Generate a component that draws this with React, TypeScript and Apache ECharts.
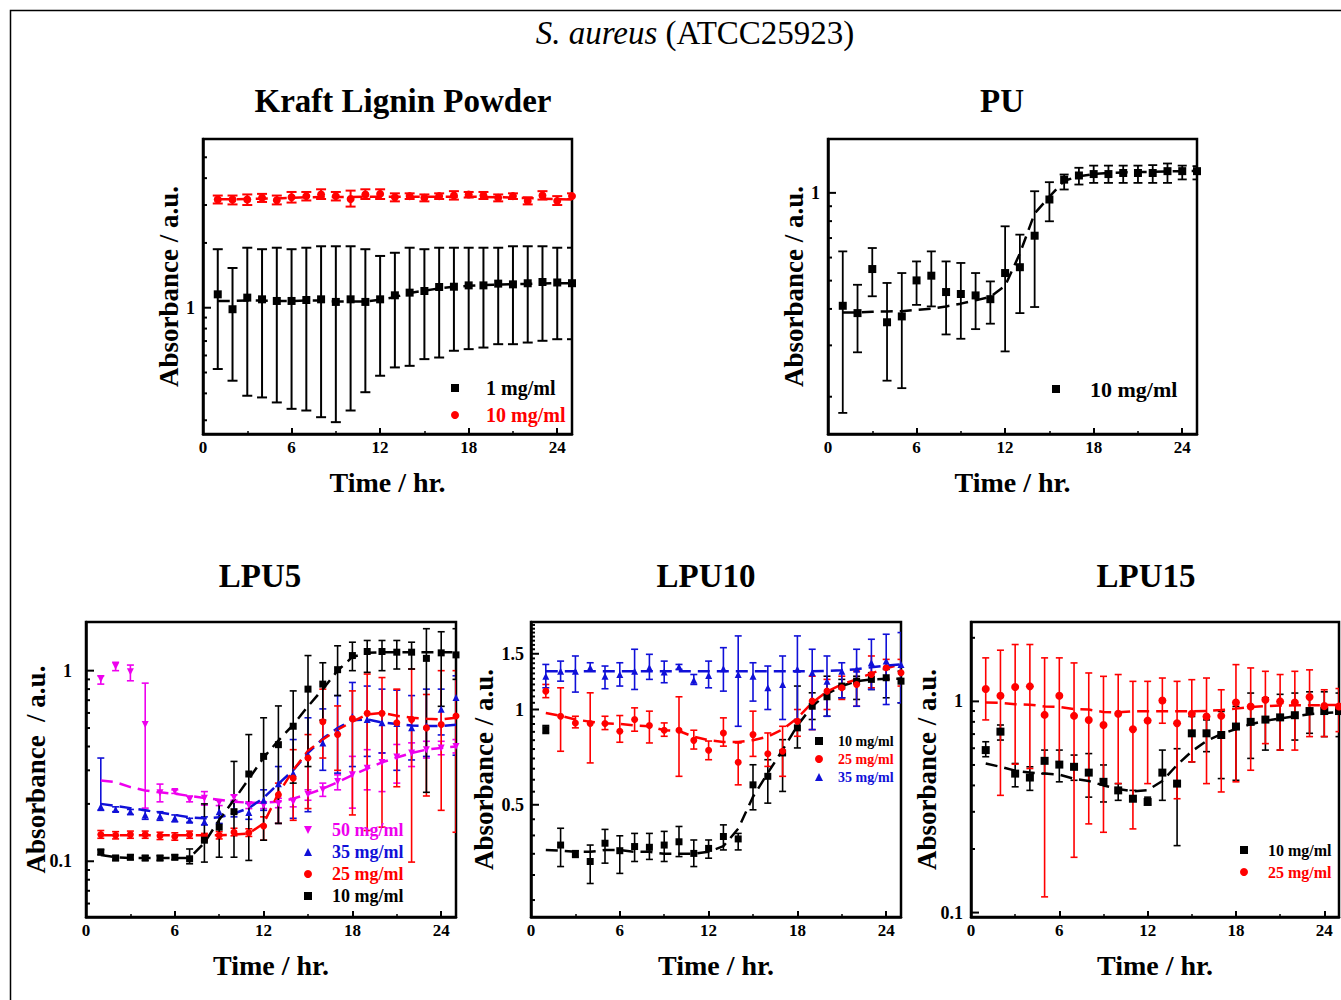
import React, { useEffect, useRef } from 'react';
import * as echarts from 'echarts';

// ---------------- data ----------------
const HOURS = [1, 2, 3, 4, 5, 6, 7, 8, 9, 10, 11, 12, 13, 14, 15, 16, 17, 18, 19, 20, 21, 22, 23, 24, 25];

// Kraft Lignin Powder
const KLP1_VAL = [1.154, 0.984, 1.114, 1.094, 1.075, 1.075, 1.086, 1.094, 1.064, 1.094, 1.064, 1.094, 1.142, 1.175, 1.196, 1.248, 1.252, 1.27, 1.27, 1.294, 1.284, 1.299, 1.317, 1.31, 1.3];
const KLP1_HI = [1.87, 1.53, 1.9, 1.87, 1.9, 1.87, 1.9, 1.93, 1.93, 1.93, 1.87, 1.74, 1.8, 1.9, 1.87, 1.9, 1.9, 1.9, 1.9, 1.9, 1.93, 1.93, 1.93, 1.9, 1.9];
const KLP1_LO = [0.519, 0.458, 0.39, 0.383, 0.363, 0.339, 0.333, 0.31, 0.294, 0.333, 0.405, 0.483, 0.528, 0.537, 0.577, 0.587, 0.631, 0.642, 0.653, 0.677, 0.677, 0.689, 0.702, 0.714, 0.714];
const KLP1_FIT = [1.075, 1.075, 1.08, 1.08, 1.075, 1.075, 1.08, 1.08, 1.07, 1.07, 1.07, 1.09, 1.12, 1.17, 1.2, 1.23, 1.25, 1.265, 1.275, 1.28, 1.285, 1.29, 1.295, 1.3, 1.3];

const KLP10_VAL = [3.18, 3.18, 3.18, 3.24, 3.16, 3.26, 3.3, 3.36, 3.3, 3.2, 3.36, 3.38, 3.26, 3.3, 3.24, 3.3, 3.32, 3.36, 3.32, 3.24, 3.3, 3.13, 3.32, 3.13, 3.3];
const KLP10_HI = [3.32, 3.32, 3.36, 3.38, 3.32, 3.45, 3.45, 3.55, 3.45, 3.5, 3.55, 3.55, 3.4, 3.4, 3.36, 3.4, 3.48, 3.45, 3.45, 3.36, 3.4, 3.26, 3.48, 3.3, 3.4];
const KLP10_LO = [3.05, 3.02, 3.0, 3.1, 3.02, 3.08, 3.15, 3.2, 3.15, 2.95, 3.2, 3.2, 3.12, 3.2, 3.12, 3.2, 3.18, 3.25, 3.2, 3.12, 3.2, 3.02, 3.18, 3.0, 3.2];
const KLP10_FIT = [3.19, 3.19, 3.2, 3.21, 3.22, 3.24, 3.26, 3.27, 3.27, 3.27, 3.28, 3.28, 3.28, 3.28, 3.28, 3.28, 3.28, 3.28, 3.27, 3.26, 3.25, 3.23, 3.21, 3.19, 3.18];

// PU
const PU10_VAL = [0.41, 0.387, 0.548, 0.36, 0.377, 0.501, 0.52, 0.457, 0.45, 0.445, 0.432, 0.531, 0.556, 0.713, 0.949, 1.11, 1.147, 1.16, 1.16, 1.17, 1.17, 1.17, 1.187, 1.187, 1.187];
const PU10_HI = [0.63, 0.484, 0.647, 0.491, 0.531, 0.582, 0.63, 0.582, 0.575, 0.531, 0.497, 0.768, 0.719, 1.013, 1.088, 1.156, 1.219, 1.24, 1.24, 1.24, 1.24, 1.245, 1.261, 1.24, 1.235];
const PU10_LO = [0.176, 0.284, 0.442, 0.227, 0.214, 0.413, 0.408, 0.327, 0.316, 0.341, 0.356, 0.286, 0.387, 0.406, 0.799, 1.027, 1.068, 1.082, 1.082, 1.082, 1.082, 1.082, 1.082, 1.112, 1.112];
const PU10_FIT = [0.389, 0.389, 0.391, 0.392, 0.393, 0.397, 0.401, 0.408, 0.417, 0.428, 0.44, 0.48, 0.62, 0.85, 0.97, 1.1, 1.14, 1.16, 1.17, 1.175, 1.18, 1.18, 1.185, 1.187, 1.19];

// LPU5
const L5_50_VAL = [0.903, 1.054, 0.987, 0.522, 0.229, 0.232, 0.211, 0.214, 0.203, 0.216, 0.197, 0.197, 0.201, 0.205, 0.224, 0.237, 0.262, 0.284, 0.308, 0.33, 0.352, 0.37, 0.385, 0.393, 0.4];
const L5_50_HI = [0.94, 1.106, 1.07, 0.86, 0.254, 0.237, 0.22, 0.232, 0.209, 0.223, 0.205, 0.205, 0.214, 0.214, 0.237, 0.257, 0.284, 0.355, 0.385, 0.37, 0.41, 0.418, 0.426, 0.426, 0.435];
const L5_50_LO = [0.85, 1.0, 0.885, 0.19, 0.205, 0.227, 0.205, 0.197, 0.196, 0.209, 0.189, 0.189, 0.191, 0.193, 0.209, 0.219, 0.237, 0.19, 0.237, 0.232, 0.257, 0.314, 0.348, 0.362, 0.37];
const L5_50_FIT = [0.265, 0.26, 0.245, 0.235, 0.23, 0.226, 0.22, 0.215, 0.21, 0.205, 0.203, 0.203, 0.205, 0.213, 0.225, 0.24, 0.26, 0.283, 0.306, 0.33, 0.35, 0.37, 0.385, 0.393, 0.4];

const L5_35_VAL = [0.193, 0.187, 0.182, 0.175, 0.172, 0.168, 0.164, 0.161, 0.182, 0.185, 0.18, 0.209, 0.255, 0.29, 0.362, 0.417, 0.481, 0.573, 0.555, 0.533, 0.528, 0.501, 0.512, 0.627, 0.722];
const L5_35_HI = [0.348, 0.193, 0.187, 0.185, 0.182, 0.175, 0.168, 0.171, 0.209, 0.205, 0.201, 0.237, 0.314, 0.435, 0.566, 0.63, 0.74, 0.867, 0.83, 0.8, 0.79, 0.74, 0.8, 0.8, 0.94];
const L5_35_LO = [0.185, 0.182, 0.176, 0.166, 0.164, 0.161, 0.16, 0.155, 0.158, 0.171, 0.166, 0.185, 0.158, 0.168, 0.182, 0.3, 0.29, 0.314, 0.355, 0.37, 0.3, 0.34, 0.355, 0.46, 0.36];
const L5_35_FIT = [0.2, 0.195, 0.19, 0.185, 0.18, 0.175, 0.17, 0.168, 0.17, 0.178, 0.19, 0.215, 0.255, 0.3, 0.37, 0.44, 0.5, 0.55, 0.555, 0.535, 0.525, 0.515, 0.512, 0.512, 0.52];

const L5_25_VAL = [0.138, 0.137, 0.138, 0.138, 0.136, 0.135, 0.138, 0.134, 0.137, 0.142, 0.141, 0.153, 0.223, 0.273, 0.348, 0.539, 0.462, 0.56, 0.597, 0.597, 0.533, 0.555, 0.501, 0.522, 0.578];
const L5_25_HI = [0.145, 0.143, 0.144, 0.144, 0.142, 0.141, 0.144, 0.14, 0.143, 0.149, 0.148, 0.171, 0.257, 0.385, 0.462, 0.8, 0.653, 0.783, 0.96, 0.92, 0.8, 1.02, 0.75, 1.0, 1.0];
const L5_25_LO = [0.132, 0.131, 0.132, 0.132, 0.13, 0.129, 0.132, 0.128, 0.131, 0.136, 0.135, 0.129, 0.158, 0.164, 0.189, 0.348, 0.3, 0.175, 0.145, 0.151, 0.246, 0.099, 0.22, 0.185, 0.142];
const L5_25_FIT = [0.137, 0.137, 0.137, 0.137, 0.137, 0.137, 0.137, 0.137, 0.137, 0.138, 0.14, 0.158, 0.227, 0.3, 0.38, 0.435, 0.49, 0.54, 0.59, 0.6, 0.58, 0.566, 0.56, 0.555, 0.566];

const L5_10_VAL = [0.112, 0.104, 0.105, 0.104, 0.104, 0.105, 0.103, 0.129, 0.151, 0.182, 0.287, 0.355, 0.409, 0.511, 0.8, 0.85, 1.012, 1.2, 1.26, 1.26, 1.25, 1.25, 1.16, 1.24, 1.21];
const L5_10_HI = [0.115, 0.107, 0.108, 0.107, 0.107, 0.108, 0.116, 0.2, 0.209, 0.334, 0.462, 0.566, 0.653, 0.783, 1.2, 1.1, 1.35, 1.41, 1.44, 1.44, 1.44, 1.41, 1.66, 1.6, 1.66];
const L5_10_LO = [0.108, 0.101, 0.102, 0.101, 0.101, 0.102, 0.097, 0.099, 0.105, 0.105, 0.101, 0.129, 0.158, 0.257, 0.314, 0.55, 0.74, 1.0, 0.98, 1.0, 1.02, 1.02, 0.23, 0.65, 0.9];
const L5_10_FIT = [0.108, 0.105, 0.104, 0.104, 0.104, 0.104, 0.104, 0.125, 0.165, 0.21, 0.27, 0.35, 0.43, 0.52, 0.65, 0.8, 1.0, 1.18, 1.24, 1.25, 1.25, 1.25, 1.25, 1.25, 1.25];

// LPU10
const L10_10_VAL = [0.864, 0.373, 0.35, 0.331, 0.378, 0.358, 0.369, 0.367, 0.373, 0.382, 0.351, 0.364, 0.397, 0.39, 0.578, 0.615, 0.729, 0.875, 1.024, 1.097, 1.186, 1.229, 1.245, 1.26, 1.229];
const L10_10_HI = [0.89, 0.4215, 0.358, 0.373, 0.418, 0.399, 0.406, 0.406, 0.412, 0.427, 0.387, 0.387, 0.432, 0.406, 0.669, 0.694, 0.803, 1.186, 1.129, 1.274, 1.245, 1.274, 1.307, 1.339, 1.322];
const L10_10_LO = [0.84, 0.319, 0.341, 0.282, 0.327, 0.3035, 0.331, 0.336, 0.331, 0.343, 0.319, 0.339, 0.36, 0.36, 0.482, 0.506, 0.551, 0.756, 0.93, 0.952, 1.089, 1.076, 1.157, 1.089, 1.05];
const L10_10_FIT = [0.36, 0.358, 0.355, 0.355, 0.36, 0.36, 0.355, 0.355, 0.35, 0.35, 0.35, 0.355, 0.37, 0.42, 0.53, 0.63, 0.745, 0.89, 1.024, 1.12, 1.186, 1.229, 1.245, 1.25, 1.25];

const L10_25_VAL = [1.143, 0.952, 0.907, 0.903, 0.903, 0.854, 0.93, 0.89, 0.86, 0.86, 0.799, 0.743, 0.843, 0.681, 0.833, 0.725, 0.738, 0.918, 1.063, 1.143, 1.171, 1.2, 1.29, 1.355, 1.307];
const L10_25_HI = [1.2, 1.171, 0.952, 1.129, 0.952, 0.957, 1.012, 0.988, 0.907, 1.097, 0.86, 0.795, 0.941, 0.784, 0.988, 0.843, 0.885, 1.0, 1.274, 1.245, 1.274, 1.322, 1.476, 1.44, 1.44];
const L10_25_LO = [1.09, 0.738, 0.875, 0.678, 0.864, 0.788, 0.854, 0.784, 0.823, 0.615, 0.75, 0.694, 0.766, 0.578, 0.711, 0.661, 0.615, 0.823, 0.864, 1.0, 1.076, 1.024, 1.171, 1.245, 1.186];
const L10_25_FIT = [0.975, 0.955, 0.93, 0.915, 0.905, 0.9, 0.89, 0.885, 0.86, 0.855, 0.82, 0.8, 0.79, 0.79, 0.8, 0.82, 0.865, 0.94, 1.05, 1.14, 1.2, 1.245, 1.3, 1.35, 1.39];

const L10_35_VAL = [1.274, 1.322, 1.322, 1.355, 1.274, 1.29, 1.322, 1.355, 1.313, 1.365, 1.238, 1.281, 1.345, 1.29, 1.274, 1.171, 1.2, 1.339, 1.307, 1.229, 1.322, 1.339, 1.405, 1.422, 1.388];
const L10_35_HI = [1.388, 1.422, 1.476, 1.405, 1.372, 1.405, 1.55, 1.494, 1.422, 1.388, 1.29, 1.422, 1.568, 1.708, 1.405, 1.372, 1.476, 1.708, 1.55, 1.476, 1.405, 1.55, 1.667, 1.729, 1.75];
const L10_35_LO = [1.171, 1.229, 1.135, 1.322, 1.163, 1.186, 1.157, 1.245, 1.215, 1.339, 1.2, 1.171, 1.143, 0.885, 1.063, 1.0, 0.93, 0.93, 0.864, 0.952, 1.089, 1.024, 1.157, 1.037, 1.05];
const L10_35_FIT = [1.32, 1.32, 1.32, 1.32, 1.32, 1.32, 1.32, 1.32, 1.32, 1.32, 1.32, 1.32, 1.32, 1.32, 1.32, 1.32, 1.32, 1.32, 1.32, 1.325, 1.33, 1.34, 1.36, 1.375, 1.39];

// LPU15
const L15_10_VAL = [0.588, 0.719, 0.455, 0.436, 0.523, 0.502, 0.49, 0.46, 0.416, 0.379, 0.346, 0.334, 0.46, 0.408, 0.706, 0.706, 0.693, 0.76, 0.8, 0.82, 0.84, 0.86, 0.9, 0.9, 0.9];
const L15_10_HI = [0.644, 0.773, 0.508, 0.49, 0.588, 0.588, 0.557, 0.566, 0.5, 0.408, 0.379, 0.352, 0.588, 0.597, 0.848, 0.817, 0.896, 0.946, 1.095, 1.04, 1.08, 1.095, 1.11, 1.11, 1.095];
const L15_10_LO = [0.547, 0.656, 0.394, 0.379, 0.455, 0.416, 0.423, 0.352, 0.334, 0.34, 0.34, 0.325, 0.34, 0.2075, 0.517, 0.578, 0.431, 0.423, 0.537, 0.588, 0.588, 0.656, 0.706, 0.681, 0.681];
const L15_10_FIT = [0.508, 0.49, 0.47, 0.46, 0.455, 0.45, 0.43, 0.42, 0.4, 0.385, 0.375, 0.38, 0.42, 0.5, 0.58, 0.65, 0.7, 0.74, 0.78, 0.81, 0.83, 0.85, 0.87, 0.88, 0.89];

const L15_25_VAL = [1.144, 1.063, 1.169, 1.178, 0.863, 1.063, 0.854, 0.817, 0.773, 0.873, 0.738, 0.811, 1.01, 0.788, 0.873, 0.848, 0.854, 0.988, 0.946, 1.017, 1.0, 0.988, 1.048, 0.95, 0.946];
const L15_25_HI = [1.607, 1.747, 1.859, 1.859, 1.607, 1.607, 1.521, 1.363, 1.314, 1.34, 1.244, 1.244, 1.29, 1.244, 1.267, 1.29, 1.135, 1.493, 1.44, 1.388, 1.34, 1.388, 1.41, 1.135, 1.15];
const L15_25_LO = [0.817, 0.359, 0.504, 0.481, 0.1187, 0.517, 0.1827, 0.263, 0.24, 0.408, 0.249, 0.408, 0.788, 0.346, 0.517, 0.408, 0.3725, 0.416, 0.472, 0.631, 0.588, 0.588, 0.681, 0.681, 0.719];
const L15_25_FIT = [0.988, 0.985, 0.97, 0.965, 0.946, 0.94, 0.92, 0.915, 0.89, 0.888, 0.897, 0.897, 0.897, 0.897, 0.897, 0.9, 0.91, 0.924, 0.94, 0.95, 0.955, 0.958, 0.958, 0.96, 0.96];

// y-axis ticks
const KLP_Y_MAJOR = [1];
const KLP_Y_LABELS = ['1'];
const KLP_Y_MINOR = [0.3, 0.4, 0.5, 0.6, 0.7, 0.8, 0.9, 2, 3, 4, 5];
const PU_Y_MAJOR = [1];
const PU_Y_LABELS = ['1'];
const PU_Y_MINOR = [0.2, 0.3, 0.4, 0.5, 0.6, 0.7, 0.8, 0.9];
const L5_Y_MAJOR = [0.1, 1];
const L5_Y_LABELS = ['0.1', '1'];
const L5_Y_MINOR = [0.06, 0.07, 0.08, 0.09, 0.2, 0.3, 0.4, 0.5, 0.6, 0.7, 0.8, 0.9];
const L10_Y_MAJOR = [0.5, 1, 1.5];
const L10_Y_LABELS = ['0.5', '1', '1.5'];
const L10_Y_MINOR = [0.25, 0.3, 0.35, 0.4, 0.45, 0.55, 0.6, 0.65, 0.7, 0.75, 0.8, 0.85, 0.9, 0.95, 1.05, 1.1, 1.15, 1.2, 1.25, 1.3, 1.35, 1.4, 1.45, 1.55, 1.6, 1.65, 1.7, 1.75, 1.8, 1.85];
const L15_Y_MAJOR = [0.1, 1];
const L15_Y_LABELS = ['0.1', '1'];
const L15_Y_MINOR = [0.2, 0.3, 0.4, 0.5, 0.6, 0.7, 0.8, 0.9, 2];

// ---------------- styling ----------------
const FONT = "'Liberation Serif', 'Times New Roman', 'DejaVu Serif', serif";
const BLACK = '#000000';
const RED = '#ff0000';
const BLUE = '#1010d8';
const MAGENTA = '#ee00ee';
const SQUARE = 'path://M0,0H10V10H0Z';
const CIRCLE = 'circle';
const TRI_UP = 'path://M5,0L10,10H0Z';
const TRI_DOWN = 'path://M0,0H10L5,10Z';

interface Curve { key: string; color: string; symbol: string; val: number[]; lo: number[]; hi: number[]; fit: number[] }
interface Panel {
  title: string; tx: number; ty: number;
  grid: { left: number; top: number; width: number; height: number };
  ymin: number; ymax: number;
  major: number[]; labels: string[]; minor: number[]; labelGap: number;
  yName: string; yNameGap: number;
  curves: Curve[];
  legend: { left: number; top: number; itemWidth: number; itemGap: number; fontSize: number };
  symbolSize: number; cap: number; barWidth: number;
}

const PANELS: Panel[] = [
  {
    title: 'Kraft Lignin Powder', tx: 403, ty: 101,
    grid: { left: 203, top: 139, width: 369, height: 295 },
    ymin: 0.259, ymax: 6.08, major: KLP_Y_MAJOR, labels: KLP_Y_LABELS, minor: KLP_Y_MINOR, labelGap: 8,
    yName: 'Absorbance / a.u.', yNameGap: 21,
    curves: [
      { key: 'p1|1 mg/ml', color: BLACK, symbol: SQUARE, val: KLP1_VAL, lo: KLP1_LO, hi: KLP1_HI, fit: KLP1_FIT },
      { key: 'p1|10 mg/ml', color: RED, symbol: CIRCLE, val: KLP10_VAL, lo: KLP10_LO, hi: KLP10_HI, fit: KLP10_FIT },
    ],
    legend: { left: 451, top: 378, itemWidth: 52, itemGap: 7, fontSize: 20 },
    symbolSize: 8, cap: 5, barWidth: 2,
  },
  {
    title: 'PU', tx: 1002, ty: 101,
    grid: { left: 828, top: 139, width: 369, height: 295 },
    ymin: 0.149, ymax: 1.53, major: PU_Y_MAJOR, labels: PU_Y_LABELS, minor: PU_Y_MINOR, labelGap: 8,
    yName: 'Absorbance / a.u.', yNameGap: 21,
    curves: [
      { key: 'p2|10 mg/ml', color: BLACK, symbol: SQUARE, val: PU10_VAL, lo: PU10_LO, hi: PU10_HI, fit: PU10_FIT },
    ],
    legend: { left: 1052, top: 378, itemWidth: 58, itemGap: 7, fontSize: 22 },
    symbolSize: 8, cap: 4.5, barWidth: 1.8,
  },
  {
    title: 'LPU5', tx: 260, ty: 576,
    grid: { left: 86, top: 622, width: 370, height: 295 },
    ymin: 0.051, ymax: 1.8, major: L5_Y_MAJOR, labels: L5_Y_LABELS, minor: L5_Y_MINOR, labelGap: 14,
    yName: 'Absorbance  / a.u.', yNameGap: 37,
    curves: [
      { key: 'p3|50 mg/ml', color: MAGENTA, symbol: TRI_DOWN, val: L5_50_VAL, lo: L5_50_LO, hi: L5_50_HI, fit: L5_50_FIT },
      { key: 'p3|35 mg/ml', color: BLUE, symbol: TRI_UP, val: L5_35_VAL, lo: L5_35_LO, hi: L5_35_HI, fit: L5_35_FIT },
      { key: 'p3|25 mg/ml', color: RED, symbol: CIRCLE, val: L5_25_VAL, lo: L5_25_LO, hi: L5_25_HI, fit: L5_25_FIT },
      { key: 'p3|10 mg/ml', color: BLACK, symbol: SQUARE, val: L5_10_VAL, lo: L5_10_LO, hi: L5_10_HI, fit: L5_10_FIT },
    ],
    legend: { left: 304, top: 821, itemWidth: 38, itemGap: 4, fontSize: 18 },
    symbolSize: 7, cap: 3.5, barWidth: 1.6,
  },
  {
    title: 'LPU10', tx: 706, ty: 576,
    grid: { left: 531, top: 622, width: 370, height: 295 },
    ymin: 0.221, ymax: 1.89, major: L10_Y_MAJOR, labels: L10_Y_LABELS, minor: L10_Y_MINOR, labelGap: 7,
    yName: 'Absorbance / a.u.', yNameGap: 34,
    curves: [
      { key: 'p4|10 mg/ml', color: BLACK, symbol: SQUARE, val: L10_10_VAL, lo: L10_10_LO, hi: L10_10_HI, fit: L10_10_FIT },
      { key: 'p4|25 mg/ml', color: RED, symbol: CIRCLE, val: L10_25_VAL, lo: L10_25_LO, hi: L10_25_HI, fit: L10_25_FIT },
      { key: 'p4|35 mg/ml', color: BLUE, symbol: TRI_UP, val: L10_35_VAL, lo: L10_35_LO, hi: L10_35_HI, fit: L10_35_FIT },
    ],
    legend: { left: 815, top: 734, itemWidth: 28, itemGap: 4, fontSize: 14 },
    symbolSize: 7, cap: 3.5, barWidth: 1.6,
  },
  {
    title: 'LPU15', tx: 1146, ty: 576,
    grid: { left: 971, top: 622, width: 368, height: 295 },
    ymin: 0.0953, ymax: 2.376, major: L15_Y_MAJOR, labels: L15_Y_LABELS, minor: L15_Y_MINOR, labelGap: 8,
    yName: 'Absorbance / a.u.', yNameGap: 31,
    curves: [
      { key: 'p5|10 mg/ml', color: BLACK, symbol: SQUARE, val: L15_10_VAL, lo: L15_10_LO, hi: L15_10_HI, fit: L15_10_FIT },
      { key: 'p5|25 mg/ml', color: RED, symbol: CIRCLE, val: L15_25_VAL, lo: L15_25_LO, hi: L15_25_HI, fit: L15_25_FIT },
    ],
    legend: { left: 1240, top: 842, itemWidth: 38, itemGap: 6, fontSize: 16 },
    symbolSize: 8, cap: 3.5, barWidth: 1.6,
  },
];

function buildOption() {
  const grids: any[] = [];
  const xAxes: any[] = [];
  const yAxes: any[] = [];
  const series: any[] = [];
  const legends: any[] = [];
  const graphics: any[] = [
    {
      type: 'rect', silent: true, z: 100,
      shape: { x: 10.5, y: 10.5, width: 1340, height: 1000 },
      style: { fill: 'none', stroke: '#000', lineWidth: 1.5 },
    },
    {
      type: 'text', x: 695, y: 33, z: 100,
      style: {
        text: '{i|S. aureus} (ATCC25923)',
        fontFamily: FONT, fontSize: 33, fill: '#000', align: 'center', verticalAlign: 'middle',
        rich: { i: { fontFamily: FONT, fontSize: 33, fontStyle: 'italic', fill: '#000' } },
      },
    },
  ];

  PANELS.forEach((p, gi) => {
    grids.push({ ...p.grid, show: true, borderColor: '#000', borderWidth: 2.5, backgroundColor: 'transparent' });
    xAxes.push({
      type: 'value', gridIndex: gi, min: 0, max: 25, interval: 6,
      axisLine: { show: true, lineStyle: { color: '#000', width: 2.5 } },
      axisTick: { show: true, inside: true, length: 6, lineStyle: { color: '#000', width: 2 } },
      minorTick: { show: true, splitNumber: 2, length: 3, lineStyle: { color: '#000', width: 1.5 } },
      splitLine: { show: false },
      axisLabel: {
        color: '#000', fontFamily: FONT, fontWeight: 'bold', fontSize: 17, margin: 5, showMaxLabel: false,
        formatter: (v: number) => (v % 6 === 0 ? String(v) : ''),
      },
      name: 'Time / hr.', nameLocation: 'middle', nameGap: 34,
      nameTextStyle: { color: '#000', fontFamily: FONT, fontWeight: 'bold', fontSize: 28 },
    });
    yAxes.push({
      type: 'log', logBase: 10, gridIndex: gi, min: p.ymin, max: p.ymax,
      axisLine: { show: true, lineStyle: { color: '#000', width: 2.5 } },
      axisTick: { show: false }, axisLabel: { show: false }, splitLine: { show: false },
      minorTick: { show: false }, minorSplitLine: { show: false },
      name: p.yName, nameLocation: 'middle', nameRotate: 90, nameGap: p.yNameGap,
      nameTextStyle: { color: '#000', fontFamily: FONT, fontWeight: 'bold', fontSize: 27 },
    });

    // y ticks + labels drawn through the axis scale
    const tickVals = [...p.major, ...p.minor];
    const nMajor = p.major.length;
    series.push({
      type: 'custom', xAxisIndex: gi, yAxisIndex: gi, clip: false, silent: true, z: 6,
      data: tickVals.map((t) => [0, t]),
      encode: { x: 0, y: 1 },
      renderItem: (params: any, api: any) => {
        const pt = api.coord([0, api.value(1)]);
        const major = params.dataIndex < nMajor;
        const len = major ? 8 : 4;
        const children: any[] = [
          { type: 'line', shape: { x1: pt[0], y1: pt[1], x2: pt[0] + len, y2: pt[1] }, style: { stroke: '#000', lineWidth: 2 } },
        ];
        if (major) {
          children.push({
            type: 'text',
            style: {
              text: p.labels[params.dataIndex], x: pt[0] - p.labelGap, y: pt[1],
              align: 'right', verticalAlign: 'middle',
              fontFamily: FONT, fontWeight: 'bold', fontSize: 18, fill: '#000',
            },
          });
        }
        return { type: 'group', children };
      },
    });

    p.curves.forEach((c) => {
      // error bars
      series.push({
        type: 'custom', xAxisIndex: gi, yAxisIndex: gi, clip: true, silent: true, z: 3,
        data: HOURS.map((h, i) => [h, c.lo[i], c.hi[i]]),
        encode: { x: 0, y: [1, 2] },
        renderItem: (params: any, api: any) => {
          const x = api.value(0);
          const a = api.coord([x, api.value(2)]);
          const b = api.coord([x, api.value(1)]);
          const mk = () => ({ stroke: c.color, lineWidth: p.barWidth });
          return {
            type: 'group',
            children: [
              { type: 'line', shape: { x1: a[0], y1: a[1], x2: b[0], y2: b[1] }, style: mk() },
              { type: 'line', shape: { x1: a[0] - p.cap, y1: a[1], x2: a[0] + p.cap, y2: a[1] }, style: mk() },
              { type: 'line', shape: { x1: b[0] - p.cap, y1: b[1], x2: b[0] + p.cap, y2: b[1] }, style: mk() },
            ],
          };
        },
      });
      // dashed fit
      series.push({
        type: 'line', xAxisIndex: gi, yAxisIndex: gi, silent: true, z: 4,
        data: HOURS.map((h, i) => [h, c.fit[i]]),
        showSymbol: false, symbol: 'none', smooth: false,
        lineStyle: { color: c.color, width: 2.5, type: [12, 7] },
      });
      // markers
      series.push({
        type: 'scatter', name: c.key, xAxisIndex: gi, yAxisIndex: gi, z: 5,
        data: HOURS.map((h, i) => [h, c.val[i]]),
        symbol: c.symbol, symbolSize: p.symbolSize,
        itemStyle: { color: c.color, opacity: 1 },
      });
    });

    legends.push({
      orient: 'vertical', left: p.legend.left, top: p.legend.top, padding: 0,
      itemGap: p.legend.itemGap, itemWidth: p.legend.itemWidth, itemHeight: 8,
      selectedMode: false, symbolKeepAspect: true,
      formatter: (n: string) => n.split('|')[1],
      textStyle: { fontFamily: FONT, fontWeight: 'bold', fontSize: p.legend.fontSize },
      data: p.curves.map((c) => ({
        name: c.key, icon: c.symbol,
        itemStyle: { color: c.color },
        textStyle: { color: c.color, fontFamily: FONT, fontWeight: 'bold', fontSize: p.legend.fontSize },
      })),
    });

    graphics.push({
      type: 'text', x: p.tx, y: p.ty, z: 100,
      style: {
        text: p.title, fontFamily: FONT, fontWeight: 'bold', fontSize: 33, fill: '#000',
        align: 'center', verticalAlign: 'middle',
      },
    });
  });

  return {
    animation: false,
    backgroundColor: '#ffffff',
    grid: grids,
    xAxis: xAxes,
    yAxis: yAxes,
    legend: legends,
    series,
    graphic: graphics,
  };
}

export default function App() {
  const ref = useRef<HTMLDivElement>(null);
  useEffect(() => {
    if (!ref.current) return;
    const chart = echarts.init(ref.current, null, { renderer: 'svg' });
    chart.setOption(buildOption() as any);
    return () => chart.dispose();
  }, []);
  return (
    <div
      ref={ref}
      style={{ position: 'absolute', left: 0, top: 0, width: 1341, height: 1000, background: '#fff' }}
    />
  );
}
